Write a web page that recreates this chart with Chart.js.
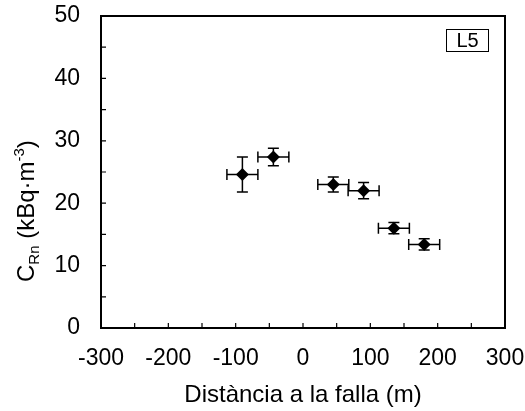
<!DOCTYPE html>
<html>
<head>
<meta charset="utf-8">
<script src="https://cdn.jsdelivr.net/npm/chart.js@4"></script>
<style>
  html, body { margin: 0; padding: 0; background: #fff; }
  #wrap { width: 525px; height: 411px; }
</style>
</head>
<body>
<div id="wrap"><canvas id="chart" width="525" height="411"></canvas></div>
<script>
const distances = [-90, -44, 45, 90, 135, 180];
const concentrations = [24.6, 27.4, 23.0, 22.0, 16.0, 13.4];
const xErrors = [23, 23, 23, 23, 23, 23];
const yErrors = [2.8, 1.4, 1.2, 1.3, 0.9, 0.9];

const xTicks = [-300, -200, -100, 0, 100, 200, 300];
const yTicks = [0, 10, 20, 30, 40, 50];
const panelLabel = "L5";
const xTitle = "Distància a la falla (m)";

const FONT = '"Liberation Sans", Arial, sans-serif';

// keep the plot box where the reference has it, labels may overflow
function noPad(s) {
  s.paddingTop = 0; s.paddingBottom = 0; s.paddingLeft = 0; s.paddingRight = 0;
}

// error bars, frame, inner ticks, titles
const decorPlugin = {
  id: 'decor',
  afterDatasetsDraw(chart) {
    const ctx = chart.ctx;
    const xs = chart.scales.x, ys = chart.scales.y;
    ctx.save();
    ctx.strokeStyle = '#000';
    ctx.lineWidth = 1.5;
    const cap = 5.5;
    distances.forEach((d, i) => {
      const px = xs.getPixelForValue(d);
      const py = ys.getPixelForValue(concentrations[i]);
      const x1 = xs.getPixelForValue(d - xErrors[i]);
      const x2 = xs.getPixelForValue(d + xErrors[i]);
      const y1 = ys.getPixelForValue(concentrations[i] - yErrors[i]);
      const y2 = ys.getPixelForValue(concentrations[i] + yErrors[i]);
      ctx.beginPath();
      ctx.moveTo(x1, py); ctx.lineTo(x2, py);
      ctx.moveTo(x1, py - cap); ctx.lineTo(x1, py + cap);
      ctx.moveTo(x2, py - cap); ctx.lineTo(x2, py + cap);
      ctx.moveTo(px, y1); ctx.lineTo(px, y2);
      ctx.moveTo(px - cap, y1); ctx.lineTo(px + cap, y1);
      ctx.moveTo(px - cap, y2); ctx.lineTo(px + cap, y2);
      ctx.stroke();
    });
    ctx.restore();
  },
  afterDraw(chart) {
    const ctx = chart.ctx;
    const xs = chart.scales.x, ys = chart.scales.y;
    const a = chart.chartArea;
    ctx.save();
    ctx.strokeStyle = '#000';
    ctx.lineWidth = 2;
    ctx.strokeRect(a.left, a.top, a.right - a.left, a.bottom - a.top);

    // inward minor ticks
    ctx.lineWidth = 1.2;
    ctx.beginPath();
    for (let v = -250; v < 300; v += 50) {
      const px = xs.getPixelForValue(v);
      ctx.moveTo(px, a.bottom); ctx.lineTo(px, a.bottom - 5);
    }
    for (let v = 5; v < 50; v += 5) {
      const py = ys.getPixelForValue(v);
      ctx.moveTo(a.left, py); ctx.lineTo(a.left + 5, py);
    }
    ctx.stroke();

    // panel label box
    ctx.lineWidth = 1;
    const bx = a.right - 59, by = a.top + 13, bw = 42, bh = 22;
    ctx.strokeRect(bx + 0.5, by + 0.5, bw, bh);
    ctx.fillStyle = '#000';
    ctx.font = '20px ' + FONT;
    ctx.textAlign = 'center';
    ctx.textBaseline = 'middle';
    ctx.fillText(panelLabel, bx + bw / 2 + 0.5, by + bh / 2 + 1.5);

    // x title
    ctx.font = '24px ' + FONT;
    ctx.fillText(xTitle, (a.left + a.right) / 2, 395);

    // y title with sub/superscript
    ctx.translate(34, 282);
    ctx.rotate(-Math.PI / 2);
    ctx.textAlign = 'left';
    ctx.textBaseline = 'alphabetic';
    let x = 0;
    const big = '24px ' + FONT, small = '15px ' + FONT;
    ctx.font = big; ctx.fillText('C', x, 0); x += ctx.measureText('C').width;
    ctx.font = small; ctx.fillText('Rn', x, 5); x += ctx.measureText('Rn').width;
    ctx.font = big; const t1 = ' (kBq·m'; ctx.fillText(t1, x, 0); x += ctx.measureText(t1).width;
    ctx.font = small; ctx.fillText('-3', x, -10); x += ctx.measureText('-3').width;
    ctx.font = big; ctx.fillText(')', x, 0);
    ctx.restore();
  }
};

new Chart(document.getElementById('chart'), {
  type: 'scatter',
  data: {
    datasets: [{
      data: distances.map((d, i) => ({ x: d, y: concentrations[i] })),
      pointStyle: 'rectRot',
      pointRadius: 6.5,
      pointHoverRadius: 6.5,
      backgroundColor: '#000',
      borderColor: '#000',
      borderWidth: 0
    }]
  },
  options: {
    responsive: false,
    animation: false,
    layout: { padding: { top: 16, right: 20, left: 0, bottom: 0 } },
    plugins: { legend: { display: false }, tooltip: { enabled: false } },
    scales: {
      x: {
        type: 'linear',
        min: -300, max: 300,
        afterBuildTicks: s => { s.ticks = xTicks.map(v => ({ value: v })); },
        afterFit: s => { s.height = 83; noPad(s); },
        grid: { display: false, drawTicks: false },
        border: { display: false },
        ticks: { color: '#000', font: { family: FONT, size: 23 }, padding: 17, maxRotation: 0 }
      },
      y: {
        min: 0, max: 50,
        afterBuildTicks: s => { s.ticks = yTicks.map(v => ({ value: v })); },
        afterFit: s => { s.width = 101; noPad(s); },
        grid: { display: false, drawTicks: false },
        border: { display: false },
        ticks: { color: '#000', font: { family: FONT, size: 23 }, padding: 21 }
      }
    }
  },
  plugins: [decorPlugin]
});
</script>
</body>
</html>
